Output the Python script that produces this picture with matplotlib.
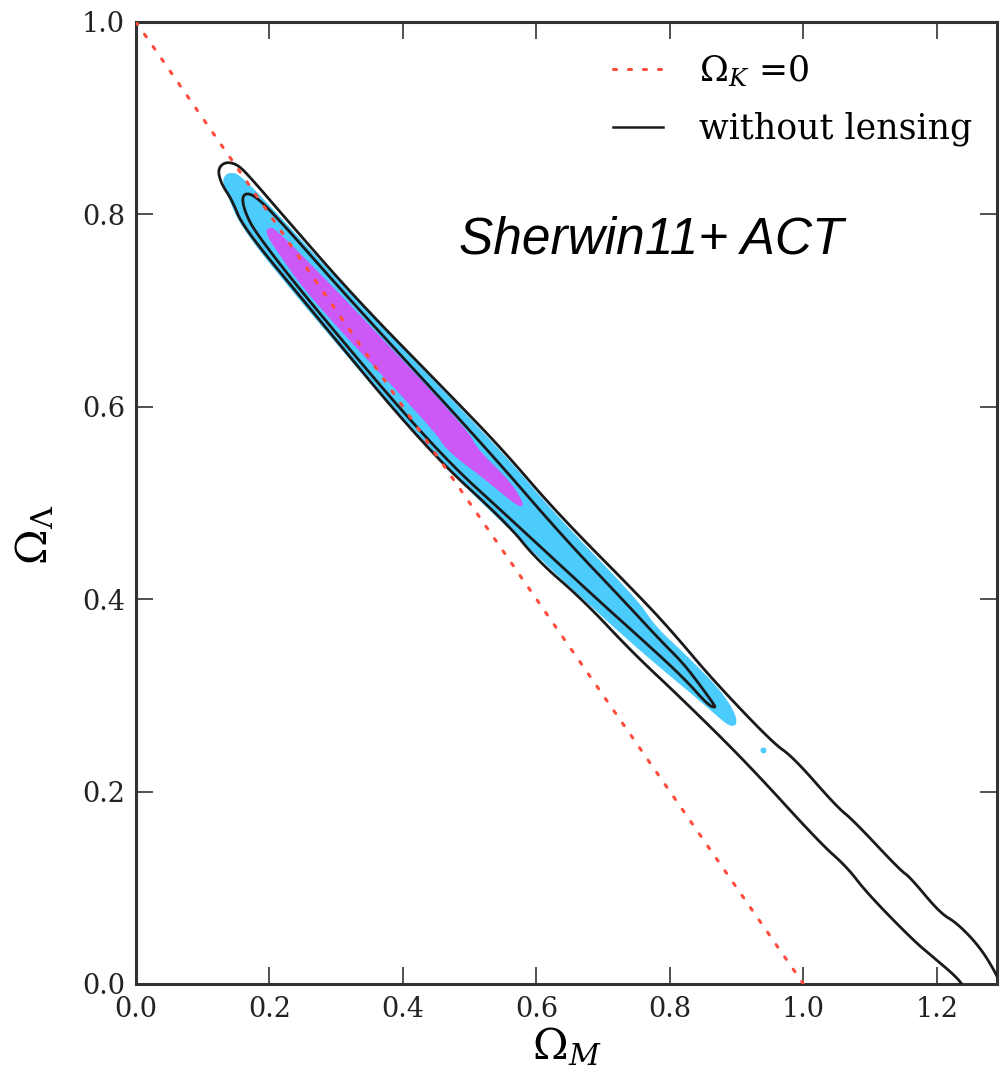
import numpy as np
import matplotlib
matplotlib.use("Agg")
import matplotlib.pyplot as plt
from matplotlib.patches import Polygon
from matplotlib.lines import Line2D

plt.rcParams['font.family'] = 'DejaVu Serif'
plt.rcParams['mathtext.fontset'] = 'dejavuserif'

# Flat universe line, Omega_M + Omega_Lambda = 1
flat_om = [0.0, 1.0]
flat_ol = [1.0, 0.0]

# 95% contour without lensing (upper edge out to the corner, then lower edge back)
nolens95_om = [0.1228, 0.1273, 0.1378, 0.1528, 0.1708, 0.2262, 0.3311, 0.4704, 0.5498,
               0.6307, 0.7596, 0.8075, 0.8644, 0.9543, 0.9843, 1.0502, 1.0742, 1.1446,
               1.1596, 1.2045, 1.2300, 1.2644, 1.2899, 1.3020,
               1.2464, 1.2345, 1.1940, 1.1640, 1.0951, 1.0652, 1.0247, 0.9154, 0.8150,
               0.7446, 0.6697, 0.6007, 0.5558, 0.4360, 0.2502, 0.1603, 0.1438, 0.1288]
nolens95_ol = [0.8441, 0.8514, 0.8545, 0.8514, 0.8389, 0.7942, 0.7110, 0.6123, 0.5551,
               0.4896, 0.3992, 0.3628, 0.3160, 0.2505, 0.2360, 0.1840, 0.1705, 0.1185,
               0.1112, 0.0738, 0.0634, 0.0385, 0.0094, -0.0114,
               -0.0114, 0.0042, 0.0281, 0.0457, 0.0946, 0.1216, 0.1466, 0.2297, 0.2983,
               0.3441, 0.3992, 0.4407, 0.4792, 0.5551, 0.7110, 0.7869, 0.8150, 0.8306]

# 68% contour without lensing
nolens68_om = [0.1588, 0.1648, 0.1783, 0.2082, 0.3206, 0.5273, 0.6397, 0.7296, 0.7850,
               0.8195, 0.8449, 0.8644, 0.8689,
               0.8569, 0.8195, 0.7506, 0.6921, 0.5708, 0.4479, 0.2577, 0.1783, 0.1633]
nolens68_ol = [0.8170, 0.8222, 0.8191, 0.7994, 0.7110, 0.5551, 0.4647, 0.3992, 0.3576,
               0.3337, 0.3108, 0.2921, 0.2869,
               0.2900, 0.3191, 0.3628, 0.3992, 0.4771, 0.5551, 0.7110, 0.7817, 0.8025]

# 95% region with lensing (filled)
lens95_om = [0.1318, 0.1393, 0.1558, 0.2262, 0.3281, 0.5453, 0.6277, 0.7506, 0.7775,
             0.8195, 0.8704, 0.8944, 0.9004,
             0.8899, 0.8704, 0.8449, 0.7551, 0.6727, 0.6052, 0.4375, 0.2457, 0.1588,
             0.1378, 0.1318]
lens95_ol = [0.8378, 0.8430, 0.8410, 0.7890, 0.7110, 0.5551, 0.4875, 0.3992, 0.3711,
             0.3441, 0.3087, 0.2848, 0.2703,
             0.2682, 0.2796, 0.2952, 0.3472, 0.3992, 0.4428, 0.5551, 0.7110, 0.7859,
             0.8202, 0.8326]

# isolated 95% island with lensing
island_om = [0.939]
island_ol = [0.243]

# 68% region with lensing (filled)
lens68_om = [0.1978, 0.2067, 0.3131, 0.4959, 0.5109, 0.5573, 0.5753, 0.5798,
             0.5708, 0.5258, 0.4659, 0.4479, 0.2637, 0.2007, 0.1963]
lens68_ol = [0.7848, 0.7859, 0.7110, 0.5759, 0.5551, 0.5239, 0.5052, 0.4969,
             0.4979, 0.5239, 0.5551, 0.5759, 0.7110, 0.7734, 0.7817]

x_ticks = [0.0, 0.2, 0.4, 0.6, 0.8, 1.0, 1.2]
y_ticks = [0.0, 0.2, 0.4, 0.6, 0.8, 1.0]

blue = '#4ccbfd'
magenta = '#cc58f5'
red = '#ff4c3c'
ink = '#1a1a1a'


def rounded_outline(om, ol, passes=3):
    """Corner-cut a closed outline so the contour is drawn with soft bends."""
    pts = np.column_stack([om, ol])
    for _ in range(passes):
        nxt = np.roll(pts, -1, axis=0)
        q = 0.75 * pts + 0.25 * nxt
        r = 0.25 * pts + 0.75 * nxt
        pts = np.empty((2 * len(q), 2))
        pts[0::2] = q
        pts[1::2] = r
    return pts


fig = plt.figure(figsize=(10, 10.88), dpi=100)
ax = fig.add_axes([0.136, 0.0956, 0.861, 0.8842])

ax.add_patch(Polygon(rounded_outline(lens95_om, lens95_ol), closed=True,
                     facecolor=blue, edgecolor=blue, lw=1.0, zorder=2))
ax.scatter(island_om, island_ol, s=18, color=blue, lw=0, zorder=2)
ax.add_patch(Polygon(rounded_outline(lens68_om, lens68_ol), closed=True,
                     facecolor=magenta, edgecolor=magenta, lw=1.0, zorder=3))

for om, ol in ((nolens95_om, nolens95_ol), (nolens68_om, nolens68_ol)):
    ax.add_patch(Polygon(rounded_outline(om, ol), closed=True, fill=False,
                         edgecolor=ink, lw=2.0, joinstyle='round', zorder=4))

ax.plot(flat_om, flat_ol, color=red, lw=2.2, linestyle=(0, (1, 3.9)),
        dash_capstyle='round', zorder=5)

ax.set_xlim(0, 1.29)
ax.set_ylim(0, 1.0)
ax.set_xticks(x_ticks)
ax.set_yticks(y_ticks)
ax.set_xticklabels([f'{v:.1f}' for v in x_ticks])
ax.set_yticklabels([f'{v:.1f}' for v in y_ticks])
ax.tick_params(direction='in', length=12, width=1.2, colors='#333333',
               labelsize=19.5, top=True, right=True, labelcolor='#222222')
ax.tick_params(axis='x', pad=9)
ax.tick_params(axis='y', pad=8)
for sp in ax.spines.values():
    sp.set_linewidth(2.2)
    sp.set_color('#333333')

ax.set_xlabel(r'$\Omega_M$', fontsize=31, labelpad=2)
ax.set_ylabel(r'$\Omega_\Lambda$', fontsize=31)
ax.yaxis.set_label_coords(-0.092, 0.467)

handles = [Line2D([], [], color=red, lw=2.2, linestyle=(0, (1, 3.9)), dash_capstyle='round'),
           Line2D([], [], color=ink, lw=1.8)]
ax.legend(handles, [r'$\Omega_K$ =0', 'without lensing'], loc='upper right',
          bbox_to_anchor=(1.0, 0.9925), frameon=False, fontsize=25,
          handlelength=1.45, handletextpad=1.05, labelspacing=0.65, borderaxespad=0.3)

ax.text(0.772, 0.773, 'Sherwin11+ ACT', fontsize=37, family='Liberation Sans',
        style='italic', ha='center', va='center', color='black', zorder=6)

fig.savefig('out.png', dpi=100)
